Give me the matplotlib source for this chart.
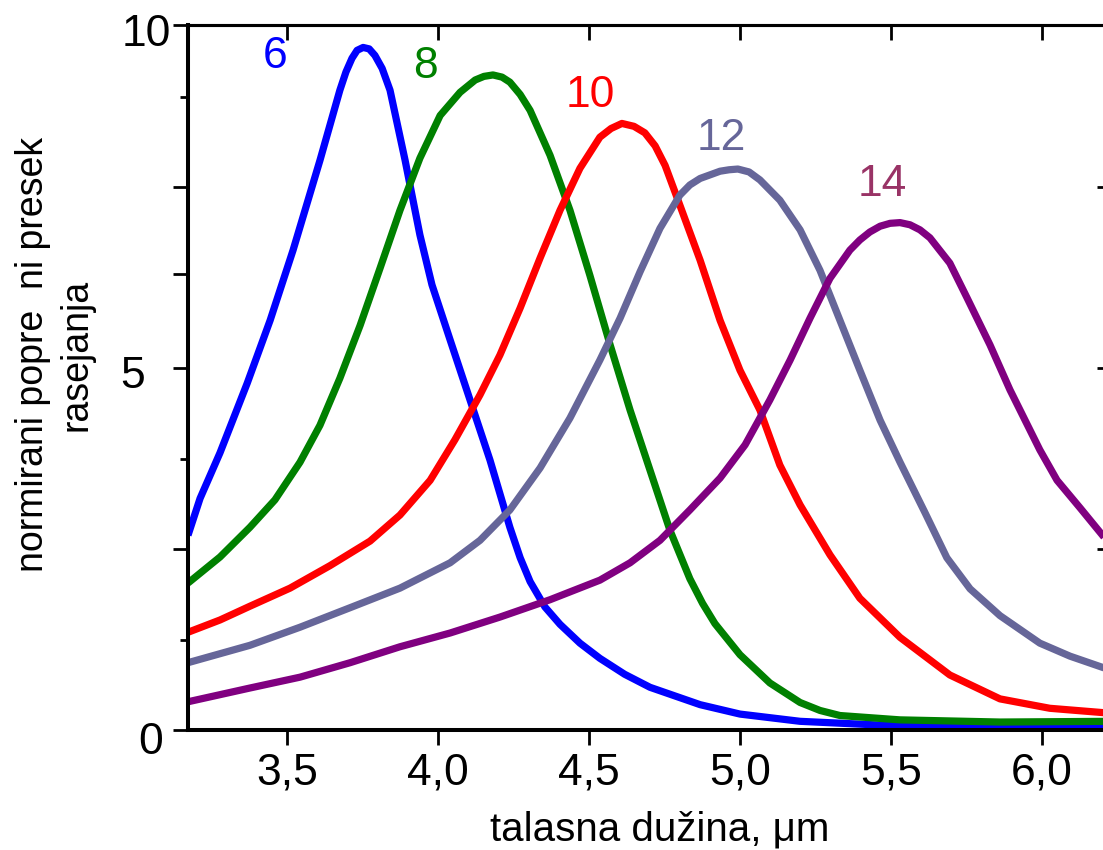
import matplotlib
matplotlib.use("Agg")
import matplotlib.pyplot as plt
from matplotlib.transforms import ScaledTranslation

plt.rcParams['font.family'] = ['Liberation Sans', 'DejaVu Sans']

# Normalised scattering cross-section vs. wavelength for five particle sizes
wl_6 = [3.172, 3.212, 3.278, 3.368, 3.444, 3.520, 3.609, 3.675, 3.695, 3.715, 3.732, 3.752,
        3.772, 3.791, 3.815, 3.841, 3.891, 3.940, 3.980, 4.040, 4.106, 4.172, 4.238, 4.272,
        4.305, 4.354, 4.404, 4.470, 4.536, 4.618, 4.702, 4.868, 5.000, 5.199, 5.530, 5.861,
        6.232]
sig_6 = [2.69, 3.20, 3.83, 4.79, 5.66, 6.63, 7.87, 8.84, 9.09, 9.28, 9.39, 9.43,
         9.41, 9.32, 9.14, 8.84, 7.87, 6.84, 6.15, 5.39, 4.56, 3.73, 2.80, 2.38,
         2.05, 1.70, 1.46, 1.20, 0.99, 0.77, 0.59, 0.35, 0.22, 0.12, 0.055, 0.04,
         0.03]

wl_8 = [3.172, 3.278, 3.377, 3.460, 3.543, 3.609, 3.675, 3.742, 3.808, 3.874, 3.940, 4.007,
        4.073, 4.123, 4.152, 4.182, 4.212, 4.238, 4.272, 4.305, 4.371, 4.437, 4.503, 4.570,
        4.636, 4.702, 4.768, 4.834, 4.876, 4.917, 5.000, 5.099, 5.199, 5.265, 5.331, 5.530,
        5.861, 6.232]
sig_8 = [2.03, 2.39, 2.80, 3.18, 3.70, 4.21, 4.86, 5.59, 6.38, 7.18, 7.90, 8.49,
         8.81, 8.98, 9.03, 9.05, 9.02, 8.95, 8.78, 8.56, 7.94, 7.18, 6.28, 5.32,
         4.42, 3.59, 2.76, 2.09, 1.75, 1.47, 1.04, 0.65, 0.38, 0.27, 0.20, 0.14,
         0.11, 0.12]

wl_10 = [3.172, 3.278, 3.377, 3.510, 3.642, 3.775, 3.874, 3.974, 4.056, 4.139, 4.205, 4.272,
         4.338, 4.404, 4.470, 4.536, 4.573, 4.609, 4.649, 4.685, 4.719, 4.752, 4.801, 4.868,
         4.934, 5.000, 5.066, 5.132, 5.199, 5.298, 5.397, 5.530, 5.695, 5.861, 6.026, 6.232]
sig_10 = [1.35, 1.52, 1.71, 1.96, 2.27, 2.61, 2.97, 3.45, 4.01, 4.63, 5.18, 5.83,
          6.52, 7.18, 7.76, 8.19, 8.31, 8.38, 8.34, 8.25, 8.07, 7.80, 7.25, 6.49,
          5.66, 4.97, 4.42, 3.66, 3.11, 2.42, 1.82, 1.28, 0.76, 0.43, 0.30, 0.23]

wl_12 = [3.172, 3.377, 3.543, 3.709, 3.874, 4.040, 4.139, 4.238, 4.338, 4.437, 4.536, 4.603,
         4.669, 4.735, 4.801, 4.834, 4.868, 4.934, 4.964, 4.993, 5.030, 5.066, 5.132, 5.199,
         5.265, 5.331, 5.397, 5.464, 5.530, 5.613, 5.685, 5.762, 5.861, 5.993, 6.093, 6.232]
sig_12 = [0.93, 1.17, 1.42, 1.69, 1.96, 2.31, 2.62, 3.04, 3.62, 4.31, 5.11, 5.69,
          6.33, 6.93, 7.39, 7.53, 7.62, 7.72, 7.74, 7.75, 7.71, 7.60, 7.32, 6.91,
          6.35, 5.66, 4.97, 4.28, 3.70, 3.00, 2.38, 1.95, 1.58, 1.20, 1.02, 0.82]

wl_14 = [3.172, 3.377, 3.543, 3.709, 3.874, 4.040, 4.205, 4.371, 4.536, 4.636, 4.735, 4.834,
         4.934, 5.017, 5.099, 5.166, 5.232, 5.298, 5.364, 5.397, 5.430, 5.464, 5.497, 5.530,
         5.563, 5.596, 5.629, 5.695, 5.752, 5.828, 5.894, 5.993, 6.050, 6.126, 6.232]
sig_14 = [0.39, 0.58, 0.73, 0.93, 1.15, 1.34, 1.56, 1.80, 2.07, 2.31, 2.62, 3.04,
          3.48, 3.94, 4.56, 5.11, 5.69, 6.24, 6.63, 6.77, 6.88, 6.96, 7.00, 7.01,
          6.98, 6.91, 6.80, 6.45, 5.97, 5.32, 4.70, 3.87, 3.45, 3.07, 2.53]

series = [
    (wl_6, sig_6, '#0000ff'),
    (wl_8, sig_8, '#008000'),
    (wl_10, sig_10, '#ff0000'),
    (wl_12, sig_12, '#666699'),
    (wl_14, sig_14, '#800080'),
]

curve_labels = ['6', '8', '10', '12', '14']
label_colors = ['#0000ff', '#008000', '#ff0000', '#666699', '#993366']
label_x = [3.460, 3.957, 4.505, 4.937, 5.470]
label_y = [9.30, 9.16, 8.76, 8.17, 7.53]

x_ticks = [3.5, 4.0, 4.5, 5.0, 5.5, 6.0]
x_tick_labels = ['3,5', '4,0', '4,5', '5,0', '5,5', '6,0']
y_major = [0, 2.5, 5, 6.3, 7.5, 9.74]
y_major_labels = ['0', '', '5', '', '', '10']
y_minor = [1.25, 3.75, 8.75]
y_right = [0, 2.5, 5, 7.5]

fig = plt.figure(figsize=(11.03, 8.5), dpi=100)
ax = fig.add_axes([188 / 1103, 120 / 850, 924 / 1103, 705 / 850])

for wl, sig, col in series:
    ax.plot(wl, sig, color=col, lw=5.2, solid_joinstyle='round', solid_capstyle='butt')

for txt, c, lx, ly in zip(curve_labels, label_colors, label_x, label_y):
    ax.text(lx, ly, txt, color=c, fontsize=32, ha='center', va='center')

ax.set_xlim(3.172, 6.232)
ax.set_ylim(0, 9.74)

ax.spines['right'].set_visible(False)
ax.spines['left'].set_linewidth(2.9)
ax.spines['bottom'].set_linewidth(2.9)
ax.spines['top'].set_linewidth(2.2)

ax.set_xticks(x_ticks)
ax.set_xticklabels(x_tick_labels)
ax.set_yticks(y_major)
ax.set_yticklabels(y_major_labels)
ax.set_yticks(y_minor, minor=True)
ax.tick_params(axis='x', which='major', direction='out', length=11, width=2,
               labelsize=32, pad=5, top=False)
ax.tick_params(axis='y', which='major', direction='out', length=11, width=2,
               labelsize=32, right=False)
ax.tick_params(axis='y', which='minor', direction='out', length=5.5, width=2, right=False)

# inward ticks on the top and right edges
secx = ax.secondary_xaxis('top')
secx.set_xticks(x_ticks)
secx.set_xticklabels([])
secx.tick_params(direction='in', length=11, width=2)
secx.spines['top'].set_linewidth(2.2)
secy = ax.secondary_yaxis('right')
secy.set_yticks(y_right)
secy.set_yticklabels([])
secy.tick_params(direction='in', length=11, width=2)

ticks = ax.yaxis.get_major_ticks()
pads = {0: 7, 2: 20, 5: 1}
drops = {0: 8, 2: 4, 5: 5}
for i, t in enumerate(ticks):
    if i in pads:
        t.set_pad(pads[i])
        lab = t.label1
        lab.set_transform(lab.get_transform() +
                          ScaledTranslation(0, -drops[i] / 100, fig.dpi_scale_trans))

ax.set_xlabel('talasna dužina, μm', fontsize=29)
ax.xaxis.set_label_coords((660 - 188) / 924, (730 - 830) / 705)
ax.xaxis.label.set_va('center')

ax.set_ylabel('normirani popre  ni presek\nrasejanja', fontsize=27, multialignment='center',
              linespacing=1.25)
ax.yaxis.set_label_coords((55 - 188) / 924, (730 - 355) / 705)
ax.yaxis.label.set_va('center')

fig.savefig('out.png', dpi=100)
